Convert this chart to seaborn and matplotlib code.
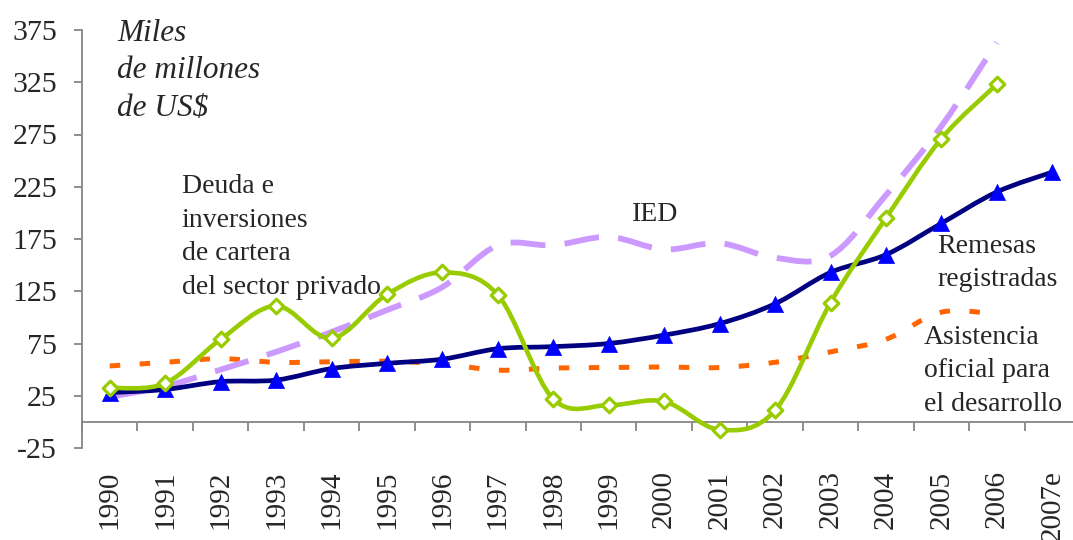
import numpy as np
import seaborn as sns
import matplotlib.pyplot as plt
from matplotlib.path import Path
from matplotlib.patches import PathPatch

# años (categorias del eje x)
years = ["1990", "1991", "1992", "1993", "1994", "1995", "1996", "1997", "1998",
         "1999", "2000", "2001", "2002", "2003", "2004", "2005", "2006", "2007e"]

# miles de millones de US$
remesas = [28, 31, 38.5, 40, 51, 56, 60, 70, 72, 75, 83, 94, 113, 143, 160, 190, 220, 239]
deuda = [32.5, 37, 79, 111, 80, 122, 143, 121.5, 22, 16, 19.5, -7.5, 11, 114, 195, 271, 323]
ied = [24, 34, 50, 67, 86, 107, 129, 169, 169, 177, 165, 171, 157, 159, 217, 283, 363]
asistencia = [53.5, 57, 60.5, 57, 57.5, 58, 55.5, 49.5, 51.5, 52, 52.5, 52, 57, 67, 79, 105, 103]


def smooth_path(xs, ys):
    # curva suavizada como la de Excel (bezier, tension 1/6)
    pts = list(zip(xs, ys))
    n = len(pts)
    verts = [pts[0]]
    codes = [Path.MOVETO]
    for i in range(n - 1):
        p0 = pts[max(i - 1, 0)]
        p1 = pts[i]
        p2 = pts[i + 1]
        p3 = pts[min(i + 2, n - 1)]
        c1 = (p1[0] + (p2[0] - p0[0]) / 6, p1[1] + (p2[1] - p0[1]) / 6)
        c2 = (p2[0] - (p3[0] - p1[0]) / 6, p2[1] - (p3[1] - p1[1]) / 6)
        verts += [c1, c2, p2]
        codes += [Path.CURVE4] * 3
    return Path(verts, codes)


sns.set_style("white")
plt.rcParams["font.family"] = ["Liberation Serif", "DejaVu Serif"]
plt.rcParams["axes.unicode_minus"] = False

fig = plt.figure(figsize=(10.73, 5.40), dpi=100)
ax = fig.add_axes([82 / 1073, 92 / 540, (1080 - 82) / 1073, 418 / 540])

x_all = np.arange(len(years))
x_17 = x_all[:len(deuda)]

# lineas suavizadas
ax.add_patch(PathPatch(smooth_path(x_17, asistencia), fill=False, edgecolor="#FF6600",
                       lw=3.6, linestyle=(0, (2.1, 3.9)), zorder=2))
ax.add_patch(PathPatch(smooth_path(x_17, ied), fill=False, edgecolor="#CC99FF",
                       lw=4.2, linestyle=(0, (6, 3.3)), zorder=3))
ax.add_patch(PathPatch(smooth_path(x_all, remesas), fill=False, edgecolor="#000080",
                       lw=3.4, zorder=4))
ax.add_patch(PathPatch(smooth_path(x_17, deuda), fill=False, edgecolor="#99CC00",
                       lw=3.3, zorder=5))

# marcadores
sns.scatterplot(x=x_all, y=remesas, marker="^", s=135, color="#0000FF",
                edgecolor="#0000FF", linewidth=0.5, ax=ax, zorder=6)
sns.scatterplot(x=x_17, y=deuda, marker="D", s=55, facecolor="white",
                edgecolor="#99CC00", linewidth=2.3, ax=ax, zorder=7)

ax.set_xlim(-0.5, 17.5)
ax.set_ylim(-25, 375)
ax.set_xlabel("")
ax.set_ylabel("")

for s in ["top", "right"]:
    ax.spines[s].set_visible(False)
for s in ["left", "bottom"]:
    ax.spines[s].set_color("#868686")
    ax.spines[s].set_linewidth(1.3)
ax.spines["bottom"].set_position(("data", 0))

ax.set_xticks(x_all)
ax.set_xticklabels(years, rotation=90)
ax.set_xticks(np.arange(-0.5, 18, 1), minor=True)
ax.tick_params(axis="x", which="major", bottom=True, length=0, pad=35, labelsize=21)
ax.tick_params(axis="x", which="minor", bottom=True, length=6.5, width=1.3,
               color="#868686", direction="out")
ax.set_yticks(range(-25, 376, 50))
ax.tick_params(axis="y", left=True, length=6, width=1.3, color="#868686",
               direction="out", pad=12, labelsize=21.5)

# textos
ax.text(0.14, 386, "Miles\nde millones\nde US$", fontsize=22.5, style="italic",
        va="top", ha="left", linespacing=1.4)
ax.text(1.30, 237, "Deuda e\ninversiones\nde cartera\ndel sector privado", fontsize=20,
        va="top", ha="left", linespacing=1.45)
ax.text(9.42, 210.5, "IED", fontsize=20, va="top", ha="left")
ax.text(14.93, 180, "Remesas\nregistradas", fontsize=20, va="top", ha="left", linespacing=1.42)
ax.text(14.68, 93, "Asistencia\noficial para\nel desarrollo", fontsize=20,
        va="top", ha="left", linespacing=1.45)

plt.savefig("out.png", dpi=100)
